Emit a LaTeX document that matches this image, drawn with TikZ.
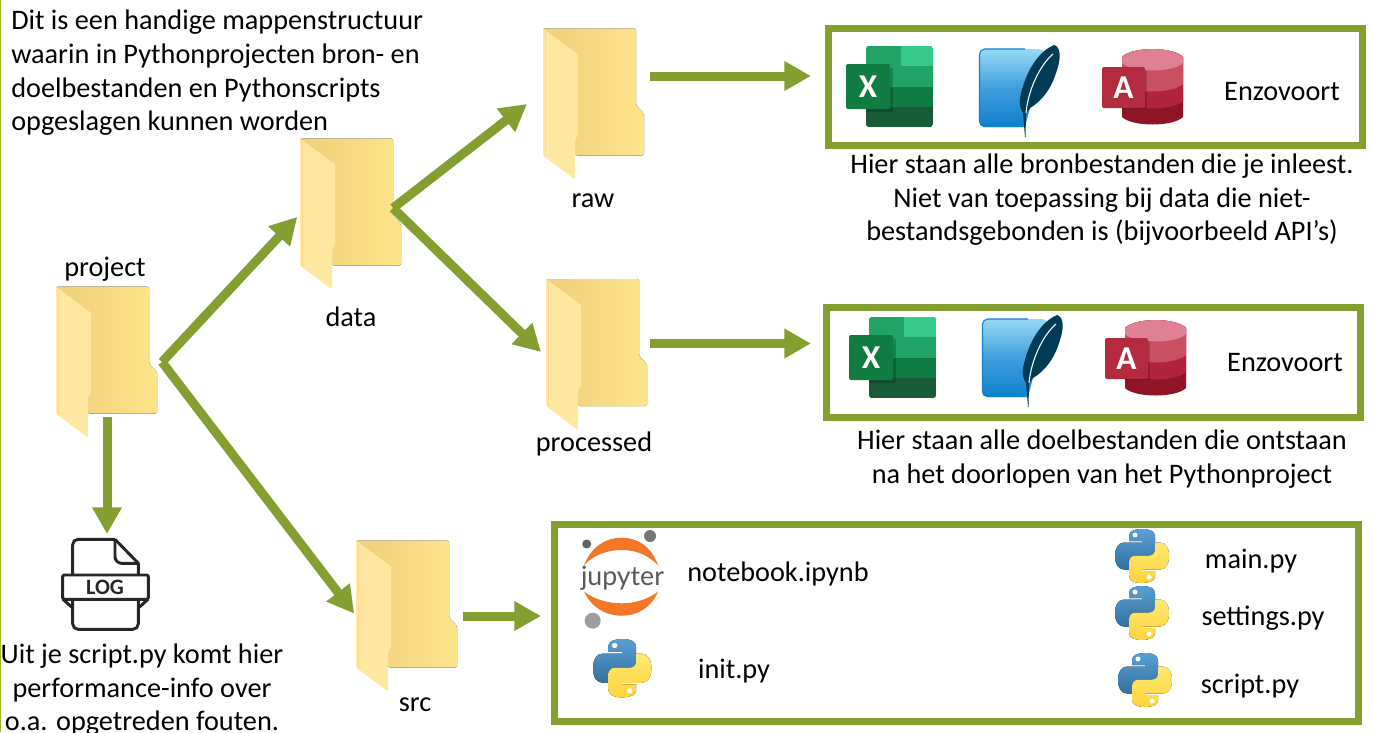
\documentclass[tikz,border=0pt]{standalone}
\usepackage{fontspec}
\setmainfont{Carlito}
\newfontfamily\jupfont{Lato}
\usetikzlibrary{arrows.meta}

\definecolor{olive}{HTML}{859E30}
\definecolor{edgeline}{HTML}{A4B52E}
\definecolor{folderleft}{HTML}{F0CF7A}
\definecolor{folderright}{HTML}{FDE48B}
\definecolor{folderflap}{HTML}{FEE79F}
\definecolor{folderedge}{HTML}{F8D98A}
\definecolor{pybluetop}{HTML}{5A9FD4}
\definecolor{pybluebot}{HTML}{33709F}
\definecolor{pyyeltop}{HTML}{FFE873}
\definecolor{pyyelbot}{HTML}{FFD43B}
\definecolor{xlmid}{HTML}{21A366}
\definecolor{xllight}{HTML}{37C98A}
\definecolor{xldark}{HTML}{107C41}
\definecolor{xldeep}{HTML}{185C37}
\definecolor{sqtop}{HTML}{97D9F6}
\definecolor{sqmid}{HTML}{3F9FDD}
\definecolor{sqbot}{HTML}{0F80CC}
\definecolor{sqfeather}{HTML}{003B57}
\definecolor{acbandd}{HTML}{8E1426}
\definecolor{acbandc}{HTML}{B0233A}
\definecolor{acbandb}{HTML}{C8505F}
\definecolor{acbanda}{HTML}{E08095}
\definecolor{acfront}{HTML}{B42A3E}
\definecolor{juporange}{HTML}{F37726}
\definecolor{jupgreya}{HTML}{767677}
\definecolor{jupgreyb}{HTML}{616262}
\definecolor{jupgreyc}{HTML}{9E9E9E}

\tikzset{
  lab/.style={font=\fontsize{21.2}{25.2}\selectfont, inner sep=0pt, align=center, text=black},
  baselab/.style={lab, anchor=base},
  folderbox/.style={minimum width=101*0.75pt, minimum height=151*0.75pt, inner sep=0pt, outer sep=0pt},
  filebox/.style={draw=olive, line width=7*0.75pt, fill=white, inner sep=0pt},
  flow/.style={draw=olive, line width=9*0.75pt, -{Triangle[length=20pt,width=21pt]}},
  pics/folder/.style={code={
    \fill[left color=folderleft, right color=folderright, rounded corners=1.5pt]
      (0,0) -- (93,0) -- (93,77) -- (101,85) -- (101,127) -- (32,127) -- (20,60) -- cycle;
    \fill[folderflap, rounded corners=1pt]
      (0,0) -- (35,26) -- (35,107) -- (32,111) -- (32,151) -- (0,127) -- cycle;
    \draw[folderedge, line width=0.5pt] (2.5,2) -- (2.5,128);
  }},
  pics/python/.style={code={
    \fill[top color=pybluetop, bottom color=pybluebot]
      (27,0) .. controls (35,0) and (40,2) .. (40,8) -- (40,21)
      .. controls (40,25) and (37,27.5) .. (33,27.5) -- (20,27.5)
      .. controls (16,27.5) and (14,30) .. (14,34) -- (14,40.5) -- (9,40.5)
      .. controls (3,40.5) and (0,35) .. (0,27) .. controls (0,19) and (3,13.5) .. (9,13.5)
      -- (27,13.5) -- (27,12) -- (14,12) -- (14,7)
      .. controls (14,2) and (20,0) .. (27,0) -- cycle;
    \fill[white] (20,6) circle[radius=2.5];
    \fill[top color=pyyeltop, bottom color=pyyelbot]
      (27,54) .. controls (19,54) and (14,52) .. (14,46) -- (14,33)
      .. controls (14,29) and (17,26.5) .. (21,26.5) -- (34,26.5)
      .. controls (38,26.5) and (40,24) .. (40,20) -- (40,13.5) -- (45,13.5)
      .. controls (51,13.5) and (54,19) .. (54,27) .. controls (54,35) and (51,40.5) .. (45,40.5)
      -- (27,40.5) -- (27,42) -- (40,42) -- (40,47)
      .. controls (40,52) and (34,54) .. (27,54) -- cycle;
    \fill[white] (34,48) circle[radius=2.5];
  }},
  pics/excelicon/.style={code={
    \begin{scope}
      \clip[rounded corners=2pt] (20,0) rectangle (87,81);
      \fill[xlmid] (20,0) rectangle (87,41);
      \fill[xllight] (55,0) rectangle (87,20);
      \fill[xldark] (20,41) rectangle (87,61);
      \fill[xldeep] (20,61) rectangle (87,81);
    \end{scope}
    \fill[black, opacity=0.2] (20,22) rectangle (47,66);
    \fill[xldark, rounded corners=1.5pt] (0,18) rectangle (44,63);
    \node[font=\fontsize{25}{25}\bfseries\selectfont, text=white, inner sep=0pt] (-x) at (22,40.5) {X};
  }},
  pics/sqliteicon/.style={code={
    \shade[top color=sqtop, bottom color=sqbot, middle color=sqmid, rounded corners=4pt]
      (0,3) -- (66,3) -- (46,81) -- (0,81) -- cycle;
    \draw[sqbot, line width=0.8pt, rounded corners=4pt] (46,3) -- (0.5,3) -- (0.5,80.5) -- (46,80.5);
    \fill[sqfeather]
      (75,-1) .. controls (82,1) and (82,12) .. (78,24)
      .. controls (74,38) and (66,53) .. (51,62) -- (47,68) -- (46.5,91) -- (46,91) -- (44,67)
      .. controls (41,62) and (40,58) .. (41,52)
      .. controls (44,36) and (54,8) .. (75,-1) -- cycle;
    \draw[white, line width=0.8pt] (47,67) .. controls (49,45) and (60,20) .. (74,8);
  }},
  pics/accessicon/.style={code={
    \foreach \bandb/\bandc in {68/acbandd, 52/acbandc, 35/acbandb, 14/acbanda}{
      \fill[\bandc] (20,8) .. controls (30,-2.5) and (71,-2.5) .. (81,8) -- (81,\bandb)
        .. controls (71,\bandb+10) and (30,\bandb+10) .. (20,\bandb) -- cycle;
    }
    \fill[black, opacity=0.2] (20,21) rectangle (45,60);
    \fill[acfront, rounded corners=1.5pt] (0,18) rectangle (43,59);
    \node[font=\fontsize{25}{25}\bfseries\selectfont, text=white, inner sep=0pt] (-a) at (21.5,38.5) {A};
  }},
}

\begin{document}
\begin{tikzpicture}[x=0.75pt, y=-0.75pt]
\useasboundingbox (0,0) rectangle (1373,732);
\draw[edgeline, line width=1pt] (0.6,0) -- (0.6,732);

% folders
\node[folderbox] (project) at (106.5,362.2) {};
\node[folderbox] (data) at (350.5,214) {};
\node[folderbox] (raw) at (593.5,104) {};
\node[folderbox] (processed) at (596.5,354.5) {};
\node[folderbox] (src) at (406.5,616) {};
\foreach \fname in {project,data,raw,processed,src}
  \pic at (\fname.north west) {folder};

% boxes
\node[filebox, minimum width=534*0.75pt, minimum height=117*0.75pt] (rawbox) at (1095.5,87) {};
\node[filebox, minimum width=534*0.75pt, minimum height=110*0.75pt] (procbox) at (1093.5,362.5) {};
\node[filebox, minimum width=804*0.75pt, minimum height=197*0.75pt] (srcbox) at (956.5,623) {};

% log icon
\node[font=\fontsize{16.5}{16.5}\bfseries\selectfont, text=black!85, inner sep=0pt] (logtext) at (105,587) {LOG};
\begin{scope}[draw=black!85, line width=2.2pt, line join=round]
  \draw[rounded corners=4pt] (72.7,575) -- (72.7,539.3) -- (115,539.3);
  \draw (115,539.3) -- (138.3,563.3) -- (138.3,575);
  \draw[rounded corners=5pt] (115,539.3) -- (115,563.3) -- (138.3,563.3);
  \draw[rounded corners=1pt] (62.7,575) rectangle (148.3,599.3);
  \draw[rounded corners=4pt] (72.7,599.3) -- (72.7,629.3) -- (138.3,629.3) -- (138.3,599.3);
  \draw (63,599.3) -- (72.7,608);
  \draw (148,599.3) -- (138.3,608);
\end{scope}

% icons
\pic (xlraw) at (846,46) {excelicon};
\pic (sqraw) at (979,46) {sqliteicon};
\pic (acraw) at (1102,49) {accessicon};
\pic (xlproc) at (849,317) {excelicon};
\pic (sqproc) at (982,316) {sqliteicon};
\pic (acproc) at (1105,320) {accessicon};

% jupyter
\fill[juporange] (584,565) .. controls (592,546) and (606,537.7) .. (621.7,537.7)
  .. controls (637,537.7) and (651,546) .. (658,565)
  .. controls (648,555) and (636,550) .. (621.7,550)
  .. controls (607,550) and (594,555) .. (584,565) -- cycle;
\fill[juporange] (584,591.7) .. controls (592,608) and (606,615.7) .. (621.7,615.7)
  .. controls (637,615.7) and (651,608) .. (658,591.7)
  .. controls (648,599) and (636,603.3) .. (621.7,603.3)
  .. controls (607,603.3) and (594,599) .. (584,591.7) -- cycle;
\fill[jupgreya] (650,536) circle[radius=6];
\fill[jupgreyb] (586.7,544) circle[radius=4.5];
\fill[jupgreyc] (592.7,620.7) circle[radius=8];
\node[font=\fontsize{20}{20}\jupfont\selectfont, text=black!65, inner sep=0pt] (juptext) at (622.5,578) {jupyter};

\pic at (1115,529) {python};
\pic at (1115,586) {python};
\pic at (1118,653) {python};
\pic[scale=1.08] at (593,639) {python};

% arrows
\coordinate (projsplit) at (162,362);
\coordinate (datasplit) at (393,208);
\coordinate (rawtip) at (527,104);
\coordinate (proctip) at (541,352);
\coordinate (rawout) at (650,76);
\coordinate (procout) at (650,343.5);
\coordinate (srcout) at (463,616);
\coordinate (logout) at (107,417);
\coordinate (logtip) at (107,534);
\draw[flow, shorten >=4*0.75pt] (projsplit) -- (data.west);
\draw[flow, shorten >=3*0.75pt] (projsplit) -- (src.west);
\draw[flow] (datasplit) -- (rawtip);
\draw[flow] (datasplit) -- (proctip);
\draw[flow, shorten >=14*0.75pt] (rawout) -- (rawout -| rawbox.west);
\draw[flow, shorten >=12*0.75pt] (procout) -- (procout -| procbox.west);
\draw[flow, shorten >=10*0.75pt] (srcout) -- (srcout -| srcbox.west);
\draw[flow] (logout) -- (logtip);

% texts
\node[lab, align=left, anchor=north west] (introtext) at (11,10) {Dit is een handige mappenstructuur\\waarin in Pythonprojecten bron- en\\doelbestanden en Pythonscripts\\opgeslagen kunnen worden};
\node[baselab] (projectlab) at (105,276) {project};
\node[baselab] (datalab) at (351,326) {data};
\node[baselab] (rawlab) at (593,207) {raw};
\node[baselab] (proclab) at (594,451) {processed};
\node[baselab] (srclab) at (415,711) {src};
\node[baselab] (enzoraw) at (1282,100) {Enzovoort};
\node[baselab] (enzoproc) at (1285,371) {Enzovoort};
\node[lab] (rawtext) at (1102,200) {Hier staan alle bronbestanden die je inleest.\\Niet van toepassing bij data die niet-\\bestandsgebonden is (bijvoorbeeld API’s)};
\node[lab] (proctext) at (1102,459) {Hier staan alle doelbestanden die ontstaan\\na het doorlopen van het Pythonproject};
\node[lab] (logtextb) at (142,690) {Uit je script.py komt hier\\performance-info over\\o.a. opgetreden fouten.};
\node[baselab] (nblab) at (778,581) {notebook.ipynb};
\node[baselab] (initlab) at (734,678) {init.py};
\node[baselab] (mainlab) at (1251,568) {main.py};
\node[baselab] (setlab) at (1263,625) {settings.py};
\node[baselab] (scriptlab) at (1250,693) {script.py};
\end{tikzpicture}
\end{document}
